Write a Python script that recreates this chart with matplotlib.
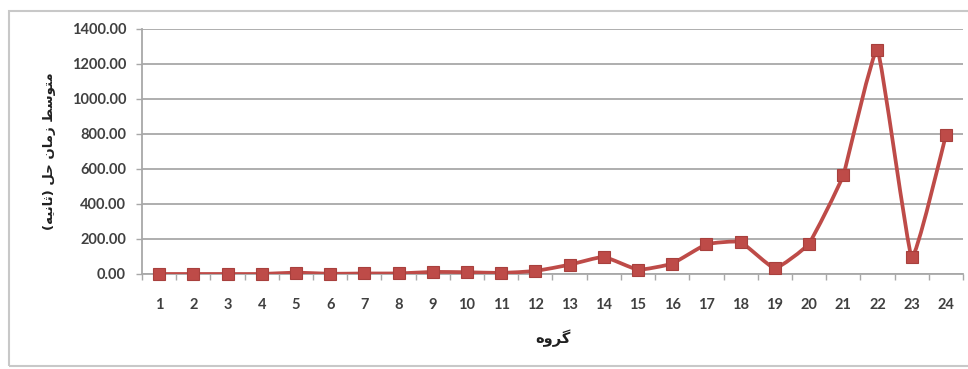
import numpy as np
import matplotlib.pyplot as plt
from matplotlib.path import Path
from matplotlib.patches import PathPatch, Rectangle

groups = list(range(1, 25))
mean_solve_time = [0, 0, 0, 0, 8, 1, 3, 3, 12, 10, 6, 17,
                   53, 98, 24, 59, 170, 183, 32, 174, 565, 1280, 97, 793]
y_ticks = [0, 200, 400, 600, 800, 1000, 1200, 1400]

X_LABEL = "گروه"
Y_LABEL = "متوسط زمان حل (ثانیه)"

LINE_COLOR = "#be4b48"
TEXT_COLOR = "#404040"
GRID_COLOR = "#a8a8a8"
SMOOTHING = 0.35

# presentation forms: (isolated, final, initial, medial); right-joining letters have only two
FORMS = {
    "ا": ("\ufe8d", "\ufe8e"),
    "ر": ("\ufead", "\ufeae"),
    "ز": ("\ufeaf", "\ufeb0"),
    "و": ("\ufeed", "\ufeee"),
    "ت": ("\ufe95", "\ufe96", "\ufe97", "\ufe98"),
    "ث": ("\ufe99", "\ufe9a", "\ufe9b", "\ufe9c"),
    "ح": ("\ufea1", "\ufea2", "\ufea3", "\ufea4"),
    "س": ("\ufeb1", "\ufeb2", "\ufeb3", "\ufeb4"),
    "ط": ("\ufec1", "\ufec2", "\ufec3", "\ufec4"),
    "ل": ("\ufedd", "\ufede", "\ufedf", "\ufee0"),
    "م": ("\ufee1", "\ufee2", "\ufee3", "\ufee4"),
    "ن": ("\ufee5", "\ufee6", "\ufee7", "\ufee8"),
    "ه": ("\ufee9", "\ufeea", "\ufeeb", "\ufeec"),
    "ی": ("\ufbfc", "\ufbfd", "\ufbfe", "\ufbff"),
    "گ": ("\ufb92", "\ufb93", "\ufb94", "\ufb95"),
}
MIRROR = {"(": ")", ")": "("}


def shape_rtl(text):
    # join the letters, then flip to visual (left-to-right) order
    out = []
    for i, ch in enumerate(text):
        if ch not in FORMS:
            out.append(MIRROR.get(ch, ch))
            continue
        prev = text[i - 1] if i > 0 else ""
        nxt = text[i + 1] if i + 1 < len(text) else ""
        joins_prev = prev in FORMS and len(FORMS[prev]) == 4
        joins_next = len(FORMS[ch]) == 4 and nxt in FORMS
        forms = FORMS[ch]
        if joins_prev and joins_next:
            out.append(forms[3])
        elif joins_prev:
            out.append(forms[1])
        elif joins_next:
            out.append(forms[2])
        else:
            out.append(forms[0])
    return "".join(reversed(out))


def smooth_path(x, y, k=SMOOTHING):
    # cubic bezier through every point, like a spreadsheet "smoothed line"
    pts = np.column_stack([x, y]).astype(float)
    verts = [pts[0]]
    codes = [Path.MOVETO]
    n = len(pts)
    for i in range(n - 1):
        p0 = pts[i - 1] if i > 0 else pts[i]
        p1, p2 = pts[i], pts[i + 1]
        p3 = pts[i + 2] if i + 2 < n else pts[i + 1]
        c1 = p1 + k * (p2 - p0) / 6
        c2 = p2 - k * (p3 - p1) / 6
        verts += [c1, c2, p2]
        codes += [Path.CURVE4] * 3
    return Path(verts, codes)


plt.rcParams["font.family"] = ["Lato", "DejaVu Sans"]

fig = plt.figure(figsize=(9.68, 3.69), dpi=100)
fig.patches.append(Rectangle((0.0093, 0.008), 1.2, 0.962, transform=fig.transFigure,
                             fill=False, edgecolor="#c8c8c8", linewidth=1.5))
ax = fig.add_axes([0.1467, 0.2575, 0.8481, 0.6640])

ax.add_patch(PathPatch(smooth_path(groups, mean_solve_time), fill=False,
                       edgecolor=LINE_COLOR, linewidth=2.7, zorder=3,
                       capstyle="round", joinstyle="round"))
ax.plot(groups, mean_solve_time, linestyle="none", marker="s", markersize=8.3,
        markerfacecolor=LINE_COLOR, markeredgecolor="#a8403d", markeredgewidth=0.8,
        zorder=4, clip_on=False)

ax.set_xlim(0.5, 24.5)
ax.set_ylim(0, 1400)
ax.set_xticks(groups)
ax.set_xticks(np.arange(0.5, 25, 1), minor=True)
ax.set_yticks(y_ticks)
ax.set_yticklabels([f"{v:.2f}" for v in y_ticks])

ax.grid(axis="y", color=GRID_COLOR, linewidth=1.3)
ax.set_axisbelow(True)
for side in ["top", "right"]:
    ax.spines[side].set_visible(False)
for side in ["left", "bottom"]:
    ax.spines[side].set_color(GRID_COLOR)
    ax.spines[side].set_linewidth(1.3)

ax.tick_params(axis="x", which="major", length=0, pad=17,
               labelsize=10.5, labelcolor=TEXT_COLOR)
ax.tick_params(axis="x", which="minor", length=4, width=1.0, color=GRID_COLOR)
ax.tick_params(axis="y", length=4.5, width=1.0, color=GRID_COLOR, pad=7,
               labelsize=10.5, labelcolor=TEXT_COLOR)
for lbl in ax.get_xticklabels() + ax.get_yticklabels():
    lbl.set_fontweight("bold")

ax.set_xlabel(shape_rtl(X_LABEL), family=["DejaVu Sans"], fontsize=10.5,
              fontweight="bold", color="#202020")
ax.xaxis.set_label_coords(0.5, -0.225)
ax.set_ylabel(shape_rtl(Y_LABEL), family=["DejaVu Sans"], fontsize=9.5,
              fontweight="bold", color="#202020")
ax.yaxis.set_label_coords(-0.105, 0.5)

fig.savefig("out.png", dpi=100)
